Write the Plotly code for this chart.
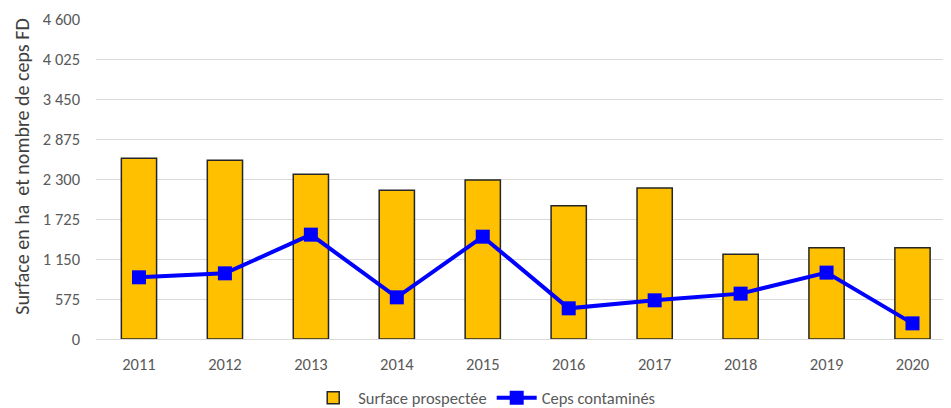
import plotly.graph_objects as go

years = ["2011", "2012", "2013", "2014", "2015", "2016", "2017", "2018", "2019", "2020"]
surface = [2598, 2569, 2367, 2137, 2286, 1917, 2171, 1217, 1313, 1313]
ceps = [887, 944, 1500, 599, 1471, 441, 556, 652, 954, 225]
ytick_vals = [0, 575, 1150, 1725, 2300, 2875, 3450, 4025, 4600]

FONT = "Carlito, Calibri, Lato, sans-serif"

fig = go.Figure()
fig.add_trace(go.Bar(
    x=years, y=surface, name="Surface prospectée",
    marker=dict(color="#FFC000", line=dict(color="#262626", width=1.5)),
    width=0.41,
))
fig.add_trace(go.Scatter(
    x=years, y=ceps, name="Ceps contaminés", mode="lines+markers",
    line=dict(color="#0000FF", width=4),
    marker=dict(symbol="square", size=14, color="#0000FF"),
))

fig.update_layout(
    width=943, height=400,
    margin=dict(l=87.5, r=0, t=11, b=69, autoexpand=False),
    paper_bgcolor="white", plot_bgcolor="white",
    separators=", ",
    font=dict(family=FONT, size=16.5, color="#595959"),
    showlegend=True,
    legend=dict(orientation="h", xref="container", yref="container",
                x=0.505, xanchor="center", y=0.025, yanchor="middle",
                font=dict(size=16.5, color="#595959"), itemwidth=40,
                traceorder="normal"),
    xaxis=dict(range=[-0.5, 9.448], showgrid=False, showline=True,
               linecolor="#d9d9d9", linewidth=1, ticks="", tickfont=dict(size=16.5),
               ticklabelstandoff=10, fixedrange=True),
    yaxis=dict(range=[0, 4600], tickvals=ytick_vals, tickformat=",d",
               showgrid=True, gridcolor="#d9d9d9", gridwidth=1,
               zeroline=False, showline=False, ticks="",
               ticklabelstandoff=15, tickfont=dict(size=16.5)),
    annotations=[dict(text="Surface en ha  et nombre de ceps FD", textangle=-90,
                      xref="paper", yref="paper", x=-0.0859, y=0.537,
                      xanchor="center", yanchor="middle", showarrow=False,
                      font=dict(size=20, color="#404040", family=FONT))],
)

fig.write_html("out.html")
